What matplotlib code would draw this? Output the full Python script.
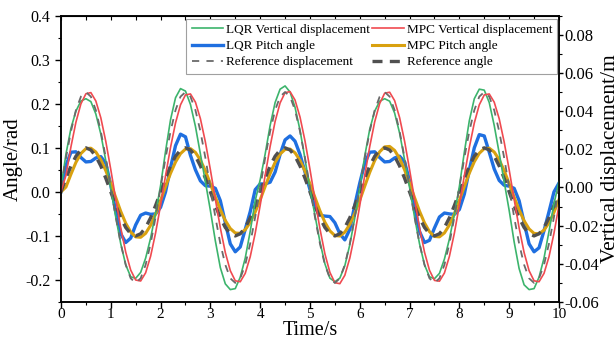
import numpy as np
import matplotlib
matplotlib.use("Agg")
import matplotlib.pyplot as plt

plt.rcParams["font.family"] = ["Liberation Serif", "DejaVu Serif"]

# time base, s
t = np.linspace(0, 10, 101)

# vertical displacement, m (right axis)
ref_disp = [
    0.0000, 0.0155, 0.0294, 0.0405, 0.0476, 0.0500, 0.0476, 0.0405, 0.0294, 0.0155,
    0.0000, -0.0155, -0.0294, -0.0405, -0.0476, -0.0500, -0.0476, -0.0405, -0.0294, -0.0155,
    0.0000, 0.0155, 0.0294, 0.0405, 0.0476, 0.0500, 0.0476, 0.0405, 0.0294, 0.0155,
    0.0000, -0.0155, -0.0294, -0.0405, -0.0476, -0.0500, -0.0476, -0.0405, -0.0294, -0.0155,
    0.0000, 0.0155, 0.0294, 0.0405, 0.0476, 0.0500, 0.0476, 0.0405, 0.0294, 0.0155,
    0.0000, -0.0155, -0.0294, -0.0405, -0.0476, -0.0500, -0.0476, -0.0405, -0.0294, -0.0155,
    0.0000, 0.0155, 0.0294, 0.0405, 0.0476, 0.0500, 0.0476, 0.0405, 0.0294, 0.0155,
    0.0000, -0.0155, -0.0294, -0.0405, -0.0476, -0.0500, -0.0476, -0.0405, -0.0294, -0.0155,
    0.0000, 0.0155, 0.0294, 0.0405, 0.0476, 0.0500, 0.0476, 0.0405, 0.0294, 0.0155,
    0.0000, -0.0155, -0.0294, -0.0405, -0.0476, -0.0500, -0.0476, -0.0405, -0.0294, -0.0155,
    0.0000]
lqr_disp = [
    0.0000, 0.0175, 0.0310, 0.0400, 0.0453, 0.0465, 0.0450, 0.0385, 0.0280, 0.0140,
    -0.0005, -0.0155, -0.0295, -0.0405, -0.0468, -0.0476, -0.0445, -0.0370, -0.0265, -0.0135,
    0.0010, 0.0190, 0.0355, 0.0470, 0.0518, 0.0505, 0.0435, 0.0320, 0.0175, 0.0030,
    -0.0120, -0.0280, -0.0420, -0.0505, -0.0535, -0.0530, -0.0470, -0.0370, -0.0230, -0.0070,
    0.0040, 0.0175, 0.0325, 0.0445, 0.0515, 0.0532, 0.0500, 0.0420, 0.0300, 0.0150,
    -0.0010, -0.0145, -0.0285, -0.0400, -0.0475, -0.0494, -0.0475, -0.0410, -0.0300, -0.0160,
    -0.0005, 0.0165, 0.0305, 0.0400, 0.0452, 0.0465, 0.0452, 0.0390, 0.0285, 0.0145,
    0.0000, -0.0155, -0.0295, -0.0405, -0.0468, -0.0478, -0.0450, -0.0375, -0.0270, -0.0140,
    0.0005, 0.0185, 0.0350, 0.0465, 0.0515, 0.0510, 0.0445, 0.0325, 0.0180, 0.0030,
    -0.0120, -0.0285, -0.0425, -0.0510, -0.0535, -0.0530, -0.0470, -0.0370, -0.0230, -0.0085,
    0.0030]
mpc_disp = [
    -0.0020, 0.0063, 0.0213, 0.0342, 0.0438, 0.0491, 0.0497, 0.0453, 0.0365, 0.0241,
    0.0094, -0.0062, -0.0211, -0.0339, -0.0433, -0.0485, -0.0490, -0.0447, -0.0360, -0.0238,
    -0.0093, 0.0062, 0.0210, 0.0338, 0.0433, 0.0485, 0.0490, 0.0447, 0.0360, 0.0238,
    0.0093, -0.0062, -0.0212, -0.0341, -0.0436, -0.0489, -0.0494, -0.0450, -0.0363, -0.0240,
    -0.0094, 0.0063, 0.0215, 0.0346, 0.0443, 0.0497, 0.0502, 0.0458, 0.0369, 0.0244,
    0.0095, -0.0063, -0.0216, -0.0348, -0.0445, -0.0499, -0.0504, -0.0460, -0.0370, -0.0245,
    -0.0095, 0.0063, 0.0214, 0.0344, 0.0440, 0.0494, 0.0499, 0.0455, 0.0366, 0.0242,
    0.0094, -0.0062, -0.0211, -0.0339, -0.0434, -0.0487, -0.0491, -0.0448, -0.0361, -0.0239,
    -0.0093, 0.0062, 0.0210, 0.0338, 0.0433, 0.0485, 0.0490, 0.0447, 0.0360, 0.0238,
    0.0093, -0.0062, -0.0212, -0.0341, -0.0436, -0.0489, -0.0494, -0.0450, -0.0363, -0.0240,
    -0.0094]

# pitch angle, rad (left axis)
ref_ang = [
    0.0000, 0.0309, 0.0588, 0.0809, 0.0951, 0.1000, 0.0951, 0.0809, 0.0588, 0.0309,
    0.0000, -0.0309, -0.0588, -0.0809, -0.0951, -0.1000, -0.0951, -0.0809, -0.0588, -0.0309,
    0.0000, 0.0309, 0.0588, 0.0809, 0.0951, 0.1000, 0.0951, 0.0809, 0.0588, 0.0309,
    0.0000, -0.0309, -0.0588, -0.0809, -0.0951, -0.1000, -0.0951, -0.0809, -0.0588, -0.0309,
    0.0000, 0.0309, 0.0588, 0.0809, 0.0951, 0.1000, 0.0951, 0.0809, 0.0588, 0.0309,
    0.0000, -0.0309, -0.0588, -0.0809, -0.0951, -0.1000, -0.0951, -0.0809, -0.0588, -0.0309,
    0.0000, 0.0309, 0.0588, 0.0809, 0.0951, 0.1000, 0.0951, 0.0809, 0.0588, 0.0309,
    0.0000, -0.0309, -0.0588, -0.0809, -0.0951, -0.1000, -0.0951, -0.0809, -0.0588, -0.0309,
    0.0000, 0.0309, 0.0588, 0.0809, 0.0951, 0.1000, 0.0951, 0.0809, 0.0588, 0.0309,
    0.0000, -0.0309, -0.0588, -0.0809, -0.0951, -0.1000, -0.0951, -0.0809, -0.0588, -0.0309,
    0.0000]
lqr_ang = [
    0.000, 0.060, 0.090, 0.091, 0.078, 0.068, 0.069, 0.077, 0.080, 0.065,
    0.015, -0.045, -0.095, -0.115, -0.105, -0.075, -0.053, -0.048, -0.051, -0.050,
    -0.035, 0.000, 0.055, 0.105, 0.131, 0.125, 0.083, 0.050, 0.025, 0.014,
    0.013, 0.008, -0.020, -0.070, -0.118, -0.136, -0.125, -0.085, -0.045, 0.005,
    0.018, 0.018, 0.022, 0.045, 0.085, 0.118, 0.127, 0.115, 0.085, 0.045,
    0.005, -0.035, -0.053, -0.055, -0.056, -0.070, -0.095, -0.109, -0.085, -0.030,
    0.020, 0.065, 0.090, 0.091, 0.078, 0.068, 0.069, 0.077, 0.081, 0.068,
    0.025, -0.035, -0.090, -0.115, -0.110, -0.082, -0.057, -0.048, -0.050, -0.051,
    -0.040, -0.005, 0.050, 0.100, 0.130, 0.127, 0.090, 0.052, 0.026, 0.015,
    0.013, 0.008, -0.020, -0.070, -0.118, -0.136, -0.127, -0.088, -0.045, 0.000,
    0.020]
mpc_ang = [
    0.0000, 0.0110, 0.0400, 0.0670, 0.0870, 0.0980, 0.0992, 0.0905, 0.0729, 0.0482,
    0.0187, -0.0130, -0.0443, -0.0712, -0.0911, -0.1022, -0.1032, -0.0941, -0.0758, -0.0501,
    -0.0195, 0.0124, 0.0422, 0.0678, 0.0868, 0.0972, 0.0982, 0.0896, 0.0722, 0.0477,
    0.0185, -0.0119, -0.0405, -0.0650, -0.0832, -0.0933, -0.0942, -0.0860, -0.0693, -0.0458,
    -0.0178, 0.0123, 0.0417, 0.0671, 0.0859, 0.0963, 0.0972, 0.0887, 0.0714, 0.0472,
    0.0184, -0.0126, -0.0430, -0.0691, -0.0885, -0.0992, -0.1002, -0.0914, -0.0736, -0.0487,
    -0.0190, 0.0130, 0.0443, 0.0712, 0.0911, 0.1022, 0.1032, 0.0941, 0.0758, 0.0501,
    0.0195, -0.0129, -0.0439, -0.0705, -0.0903, -0.1012, -0.1022, -0.0932, -0.0751, -0.0496,
    -0.0193, 0.0125, 0.0426, 0.0685, 0.0876, 0.0982, 0.0992, 0.0905, 0.0729, 0.0482,
    0.0187, -0.0120, -0.0409, -0.0657, -0.0841, -0.0943, -0.0952, -0.0869, -0.0700, -0.0463,
    -0.0180]

fig = plt.figure(figsize=(6.16, 3.41), dpi=100)
ax = fig.add_axes([0.099, 0.1144, 0.8084, 0.8396])
ax2 = ax.twinx()

l3, = ax.plot(t, lqr_ang, color="#1f6fe0", lw=2.4, label="LQR Pitch angle")
l4, = ax.plot(t, mpc_ang, color="#d9a10f", lw=2.2, label="MPC Pitch angle")
l6, = ax.plot(t, ref_ang, color="#505050", lw=2.4, dashes=(3.0, 2.2), label="Reference angle")
l1, = ax2.plot(t, lqr_disp, color="#3cb46c", lw=1.2, label="LQR Vertical displacement")
l2, = ax2.plot(t, mpc_disp, color="#f04a50", lw=1.2, label="MPC Vertical displacement")
l5, = ax2.plot(t, ref_disp, color="#6a6a6a", lw=1.3, dashes=(4, 4), label="Reference displacement")

ax.set_xlim(0, 10); ax.set_ylim(-0.25, 0.4); ax2.set_ylim(-0.06, 0.09)
ax.set_xticks(np.arange(0, 11, 1)); ax.set_xticks(np.arange(0, 10.01, 0.5), minor=True)
ax.set_yticks(np.arange(-0.2, 0.41, 0.1)); ax.set_yticks(np.arange(-0.25, 0.401, 0.05), minor=True)
ax2.set_yticks(np.arange(-0.06, 0.081, 0.02)); ax2.set_yticks(np.arange(-0.06, 0.0901, 0.01), minor=True)
ax.yaxis.set_major_formatter(matplotlib.ticker.FormatStrFormatter("%.1f"))
ax2.yaxis.set_major_formatter(matplotlib.ticker.FormatStrFormatter("%.2f"))

for a in (ax, ax2):
    a.tick_params(which="major", direction="out", length=4, width=1, labelsize=11.5)
    a.tick_params(which="minor", direction="out", length=2.5, width=0.8)
    for s in a.spines.values():
        s.set_linewidth(1.1)
ax.tick_params(axis="x", pad=0.5, labelsize=11)
ax2.tick_params(axis="y", which="major", length=3, pad=1, labelsize=12)
top = ax.secondary_xaxis("top")
top.set_xticks(np.arange(0, 11, 1)); top.set_xticks(np.arange(0, 10.01, 0.5), minor=True)
top.tick_params(which="both", direction="in", labeltop=False, length=3, width=0.8)

ax.set_xlabel("Time/s", fontsize=14.5, labelpad=-0.5)
ax.set_ylabel("Angle/rad", fontsize=15, labelpad=2)
ax2.set_ylabel("Vertical displacement/m", fontsize=15.5, labelpad=1)

leg = ax2.legend(handles=[l1, l3, l5, l2, l4, l6], ncol=2, loc="upper right",
                 bbox_to_anchor=(0.997, 0.99), fontsize=9.5, frameon=True, fancybox=False,
                 edgecolor="#a0a0a0", framealpha=1, borderaxespad=0, handlelength=2.4,
                 handletextpad=0.2, columnspacing=0.2, labelspacing=0.3, borderpad=0.4)
leg.get_frame().set_linewidth(0.8)

fig.savefig("out.png", dpi=100)
